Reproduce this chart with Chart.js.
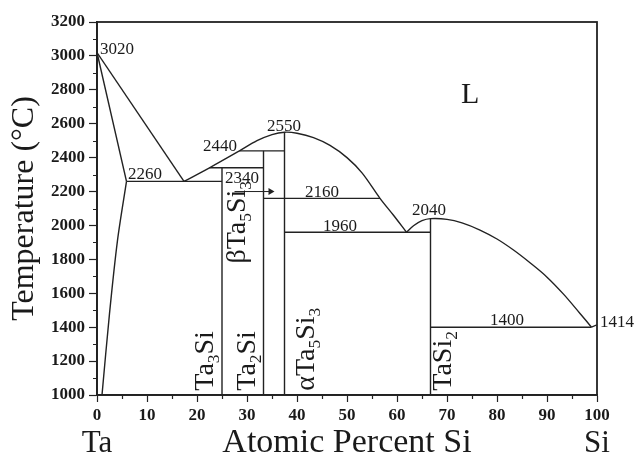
<!DOCTYPE html>
<html>
<head>
<meta charset="utf-8">
<script src="https://cdn.jsdelivr.net/npm/chart.js@4.4.0/dist/chart.umd.min.js"></script>
<style>
  html, body { margin: 0; padding: 0; background: #fff; }
</style>
</head>
<body>
<canvas id="phaseChart" width="637" height="459"></canvas>
<script>
// Diagrama de fases Ta-Si: cada linea es una lista de puntos [at.% Si, T (°C)]
const xTickValues = [0, 10, 20, 30, 40, 50, 60, 70, 80, 90, 100];
const yTickValues = [1000, 1200, 1400, 1600, 1800, 2000, 2200, 2400, 2600, 2800, 3000, 3200];

const taLiquidus  = [[0, 3020], [17.4, 2260]];
const taSolidus   = [[0, 3020], [5.9, 2260]];
const taSolvus    = [[5.9, 2260], [4.1, 1912], [2.5, 1480], [1, 1000]];
const liqTa5Si3   = [[17.4, 2260], [22.5, 2340], [28.5, 2440], [32, 2500], [35, 2536], [37.5, 2550],
                     [40, 2544], [43.3, 2518], [46.6, 2472], [50, 2400], [53, 2310], [56.6, 2160], [59.3, 2060], [61.9, 1960]];
const liqTaSi2    = [[61.9, 1960], [63.3, 1998], [65, 2028], [66.7, 2040], [70, 2036], [73, 2015], [76.6, 1973],
                     [80, 1920], [83.3, 1855], [86.6, 1780], [89.9, 1698], [93.3, 1595], [96.6, 1481], [98.9, 1400]];
const siEnd       = [[98.9, 1400], [100, 1414]];

// isotermas [x inicio, x fin, T]
const isotherms = [[5.9, 25, 2260], [22.5, 33.3, 2340], [28.5, 37.5, 2440], [33.3, 56.6, 2160], [37.5, 66.7, 1960], [66.7, 98.9, 1400]];
// compuestos [x, T superior]
const compounds = [[25, 2340], [33.3, 2440], [37.5, 2550], [66.7, 2040]];
const arrowLine = [[27.5, 2200], [34.7, 2200]];

// etiquetas de temperatura [texto, x, T]
const tempLabels = [
  ['3020', 0.6, 3012], ['2260', 6.2, 2274], ['2440', 21.2, 2440], ['2550', 34, 2557],
  ['2340', 25.6, 2251], ['2160', 41.6, 2168], ['1960', 45.2, 1968], ['2040', 63, 2062],
  ['1400', 78.6, 1410], ['1414', 100.6, 1401]
];
// fases (texto vertical); {n} = subindice
const phaseLabels = [
  ['Ta{3}Si', 23.2, 1025], ['Ta{2}Si', 31.6, 1025], ['\u03b1Ta{5}Si{3}', 43.4, 1025],
  ['TaSi{2}', 70.8, 1025], ['\u03b2Ta{5}Si{3}', 29.6, 1775]
];
const liquidLabel = ['L', 72.8, 2725];

const LINE = '#222';
const TEXT = '#1a1a1a';
const SERIF = '"Liberation Serif", "Times New Roman", serif';

function pts(arr) { return arr.map(([x, y]) => ({x, y})); }
function lineSet(arr, tension) {
  return { data: pts(arr), showLine: true, pointRadius: 0, borderColor: LINE, borderWidth: 1.4, tension: tension || 0 };
}

const datasets = [
  lineSet(taLiquidus), lineSet(taSolidus), lineSet(taSolvus, 0.3),
  lineSet(liqTa5Si3, 0.35), lineSet(liqTaSi2, 0.35), lineSet(siEnd)
];
isotherms.forEach(([a, b, t]) => datasets.push(lineSet([[a, t], [b, t]])));
compounds.forEach(([x, t]) => datasets.push(lineSet([[x, 1000], [x, t]])));
datasets.push({
  data: pts(arrowLine), showLine: true, borderColor: LINE, borderWidth: 1,
  pointRadius: [0, 4], pointStyle: 'triangle', rotation: 90,
  pointBackgroundColor: LINE, pointBorderColor: LINE, pointBorderWidth: 0
});

// texto con subindices, opcionalmente girado 90°
function drawRich(ctx, str, x, y, size, vertical) {
  const parts = str.split(/(\{[^}]*\})/).filter(s => s.length);
  ctx.save();
  ctx.translate(x, y);
  if (vertical) ctx.rotate(-Math.PI / 2);
  ctx.textBaseline = 'alphabetic';
  ctx.textAlign = 'left';
  let cx = 0;
  parts.forEach(p => {
    const sub = p[0] === '{';
    const t = sub ? p.slice(1, -1) : p;
    ctx.font = (sub ? size * 0.62 : size) + 'px ' + SERIF;
    ctx.fillText(t, cx, sub ? size * 0.2 : 0);
    cx += ctx.measureText(t).width;
  });
  ctx.restore();
}

const decorations = {
  id: 'decorations',
  afterDraw(chart) {
    const {ctx, chartArea: a, scales: {x, y}} = chart;
    ctx.save();
    ctx.strokeStyle = LINE;
    ctx.lineWidth = 1.8;
    ctx.strokeRect(a.left, a.top, a.right - a.left, a.bottom - a.top);
    // marcas menores
    ctx.lineWidth = 1.2;
    ctx.beginPath();
    for (let v = 5; v < 100; v += 10) {
      const px = Math.round(x.getPixelForValue(v)) + 0.5;
      ctx.moveTo(px, a.bottom); ctx.lineTo(px, a.bottom + 4);
    }
    for (let v = 1100; v < 3200; v += 200) {
      const py = Math.round(y.getPixelForValue(v)) + 0.5;
      ctx.moveTo(a.left, py); ctx.lineTo(a.left - 4, py);
    }
    ctx.stroke();

    ctx.fillStyle = TEXT;
    tempLabels.forEach(([t, vx, vy]) => drawRich(ctx, t, x.getPixelForValue(vx), y.getPixelForValue(vy), 17, false));
    phaseLabels.forEach(([t, vx, vy]) => drawRich(ctx, t, x.getPixelForValue(vx), y.getPixelForValue(vy), 28, true));
    drawRich(ctx, liquidLabel[0], x.getPixelForValue(liquidLabel[1]), y.getPixelForValue(liquidLabel[2]), 30, false);

    ctx.textBaseline = 'alphabetic';
    ctx.textAlign = 'center';
    ctx.font = '31px ' + SERIF;
    ctx.fillText('Ta', x.getPixelForValue(0), 452);
    ctx.fillText('Si', x.getPixelForValue(100), 452);
    ctx.font = '34px ' + SERIF;
    ctx.fillText('Atomic Percent Si', (a.left + a.right) / 2, 452);
    ctx.restore();
  }
};

new Chart(document.getElementById('phaseChart'), {
  type: 'scatter',
  data: { datasets },
  options: {
    responsive: false,
    animation: false,
    devicePixelRatio: 1,
    layout: { padding: { top: 22, right: 40, left: 0, bottom: 0 } },
    plugins: { legend: { display: false }, tooltip: { enabled: false } },
    scales: {
      x: {
        type: 'linear', min: 0, max: 100,
        afterFit: s => { s.height = 64; },
        afterBuildTicks: s => { s.ticks = xTickValues.map(v => ({value: v})); },
        grid: { drawOnChartArea: false, tickLength: 7, tickColor: LINE, tickWidth: 1.2 },
        border: { color: LINE, width: 1.8 },
        ticks: { color: TEXT, padding: 3, maxRotation: 0, callback: v => String(v),
                 font: { family: SERIF, size: 17, weight: 'bold' } }
      },
      y: {
        type: 'linear', min: 1000, max: 3200,
        afterFit: s => { s.width = 97; },
        afterBuildTicks: s => { s.ticks = yTickValues.map(v => ({value: v})); },
        grid: { drawOnChartArea: false, tickLength: 8, tickColor: LINE, tickWidth: 1.2 },
        border: { color: LINE, width: 1.8 },
        ticks: { color: TEXT, padding: 4, callback: v => String(v),
                 font: { family: SERIF, size: 17, weight: 'bold' } },
        title: { display: true, text: 'Temperature (\u00b0C)', color: TEXT, padding: { top: 5 },
                 font: { family: SERIF, size: 32, lineHeight: 1.2 } }
      }
    }
  },
  plugins: [decorations]
});
</script>
</body>
</html>
